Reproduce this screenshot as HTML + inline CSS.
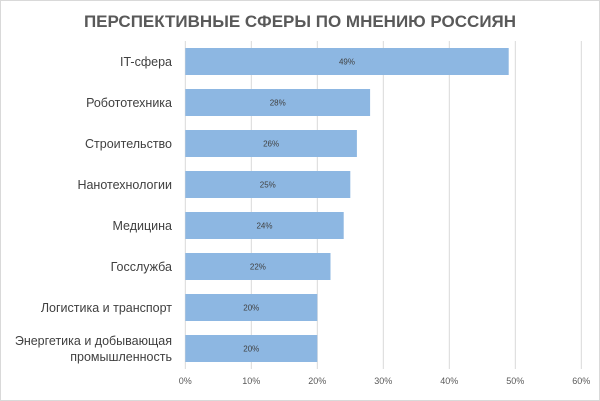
<!DOCTYPE html>
<html><head><meta charset="utf-8"><style>
body{margin:0;background:#fff}
svg{display:block;font-family:"Liberation Sans","DejaVu Sans",sans-serif}
</style></head><body>
<svg id="chart" width="600" height="401">
<rect x="0.5" y="0.5" width="599" height="400" fill="#fff" stroke="#d9d9d9"/>
<text x="300" y="27" text-anchor="middle" font-size="17" font-weight="bold" fill="#595959">ПЕРСПЕКТИВНЫЕ СФЕРЫ ПО МНЕНИЮ РОССИЯН</text>
<g id="grid"></g><g id="bars"></g><g id="labels"></g><g id="ticks"></g>
</svg>
<script>
const categories=["IT-сфера","Робототехника","Строительство","Нанотехнологии","Медицина","Госслужба","Логистика и транспорт","Энергетика и добывающая|промышленность"];
const values=[49,28,26,25,24,22,20,20];
const tickValues=[0,10,20,30,40,50,60];
const tickLabels=["0%","10%","20%","30%","40%","50%","60%"];
const NS="http://www.w3.org/2000/svg";
const x0=185.3,pxPer=6.6,top0=41,step=41,bh=27;
const xs=v=>x0+v*pxPer;
const ys=i=>top0+i*step;
function mk(t,a,p){const e=document.createElementNS(NS,t);for(const k in a)e.setAttribute(k,a[k]);p.appendChild(e);return e;}
const grid=document.getElementById('grid'),bars=document.getElementById('bars'),labels=document.getElementById('labels'),ticks=document.getElementById('ticks');
tickValues.forEach((v,i)=>{
 const l=mk('line',{x1:xs(v),x2:xs(v),y1:top0,y2:ys(categories.length),stroke:'#d9d9d9','stroke-width':1},grid);
 
 
 const t=mk('text',{x:xs(v),y:384,'text-anchor':'middle','font-size':9,fill:'#595959'},ticks);
 t.textContent=tickLabels[i];
 
 
});
categories.forEach((c,i)=>{
 const y=ys(i)+(step-bh)/2;
 const r=mk('rect',{x:xs(0),y:y,width:xs(values[i])-xs(0),height:bh,fill:'#8db7e2'},bars);
 
 
 const vt=mk('text',{x:(xs(0)+xs(values[i]))/2,y:y+bh/2+3,'text-anchor':'middle','font-size':8,fill:'#404040'},bars);
 vt.textContent=values[i]+'%';
 
 
 const parts=c.split('|');
 parts.forEach((p,j)=>{
  const lt=mk('text',{x:172,y:y+bh/2+4.5+(j-(parts.length-1)/2)*16,'text-anchor':'end','font-size':12.5,fill:'#404040'},labels);
  lt.textContent=p;
  
  
 });
});
</script>
</body></html>
